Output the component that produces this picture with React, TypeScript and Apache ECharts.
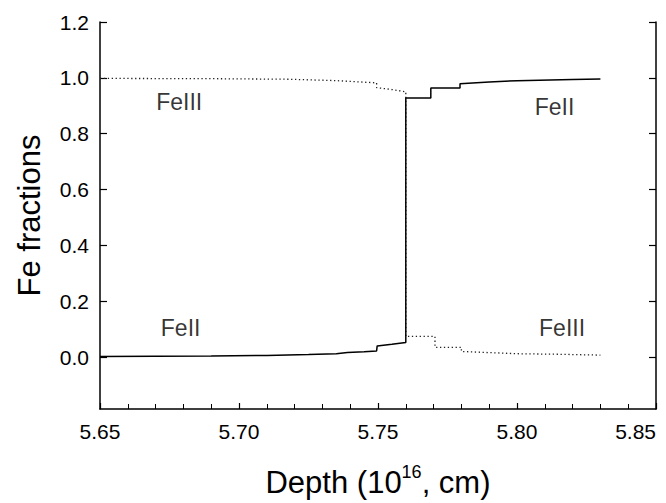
import React, { useEffect, useRef } from "react";
import * as echarts from "echarts";

const feIIDepth = [5.65, 5.67, 5.69, 5.71, 5.725, 5.735, 5.739, 5.745, 5.7495, 5.7497, 5.755, 5.76, 5.76, 5.769, 5.769, 5.7795, 5.7795, 5.79, 5.8, 5.82, 5.83];
const feIIFrac = [0.002, 0.003, 0.004, 0.006, 0.009, 0.012, 0.016, 0.019, 0.022, 0.04, 0.046, 0.052, 0.928, 0.928, 0.964, 0.964, 0.979, 0.985, 0.99, 0.994, 0.996];

const feIIIDepth = [5.65, 5.69, 5.718, 5.735, 5.7495, 5.7495, 5.755, 5.76, 5.76, 5.7705, 5.7705, 5.78, 5.78, 5.79, 5.8, 5.815, 5.83];
const feIIIFrac = [0.998, 0.997, 0.995, 0.99, 0.982, 0.965, 0.958, 0.95, 0.074, 0.074, 0.035, 0.035, 0.02, 0.016, 0.012, 0.01, 0.007];

const yTicks = [0, 0.2, 0.4, 0.6, 0.8, 1.0, 1.2];

const labels = [
  { text: "FeIII", x: 5.6785, y: 0.912 },
  { text: "FeII", x: 5.8135, y: 0.895 },
  { text: "FeII", x: 5.679, y: 0.105 },
  { text: "FeIII", x: 5.8162, y: 0.105 },
];

const FONT = "'Liberation Sans', Arial, Helvetica, sans-serif";

export default function App() {
  const ref = useRef<HTMLDivElement>(null);
  useEffect(() => {
    if (!ref.current) return;
    const chart = echarts.init(ref.current, undefined, { renderer: "svg" });
    const zip = (a: number[], b: number[]) => a.map((v, i) => [v, b[i]]);
    chart.setOption({
      animation: false,
      backgroundColor: "#ffffff",
      grid: { left: 100, right: 10, top: 22, bottom: 94 },
      xAxis: {
        type: "value",
        min: 5.65,
        max: 5.85,
        interval: 0.05,
        axisLine: { show: true, onZero: false, lineStyle: { color: "#000", width: 1.5 } },
        axisTick: { show: true, inside: true, length: 6, lineStyle: { color: "#000", width: 1.2 } },
        minorTick: { show: true, splitNumber: 5, length: 5, lineStyle: { color: "#000", width: 1 } },
        splitLine: { show: false },
        axisLabel: {
          color: "#000",
          fontSize: 21,
          fontFamily: FONT,
          margin: 12,
          alignMaxLabel: "right",
          formatter: (v: number) => v.toFixed(2),
        },
        name: "{a|Depth (10}{sup|16}{a|, cm)}",
        nameLocation: "middle",
        nameGap: 54,
        nameTextStyle: {
          rich: {
            a: { fontSize: 31, fontFamily: FONT, color: "#000", lineHeight: 38 },
            sup: { fontSize: 18, fontFamily: FONT, color: "#000", lineHeight: 38, verticalAlign: "top", padding: [0, 0, 16, 0] },
          },
        },
      },
      yAxis: [
        {
          type: "value",
          min: -0.186,
          max: 1.2,
          axisLine: { show: true, onZero: false, lineStyle: { color: "#000", width: 1.5 } },
          axisTick: { show: true, inside: true, length: 7, customValues: yTicks, lineStyle: { color: "#000", width: 1.2 } },
          splitLine: { show: false },
          axisLabel: {
            color: "#000",
            fontSize: 21,
            fontFamily: FONT,
            margin: 11,
            customValues: yTicks,
            formatter: (v: number) => v.toFixed(1),
          },
          name: "Fe fractions",
          nameLocation: "middle",
          nameRotate: 90,
          nameGap: 55,
          nameTextStyle: { fontSize: 31, fontFamily: FONT, color: "#000" },
        },
        {
          type: "value",
          position: "right",
          min: -0.186,
          max: 1.2,
          axisLine: { show: true, onZero: false, lineStyle: { color: "#000", width: 1.5 } },
          axisTick: { show: true, inside: true, length: 7, customValues: yTicks, lineStyle: { color: "#000", width: 1.2 } },
          splitLine: { show: false },
          axisLabel: { show: false },
        },
      ],
      series: [
        {
          name: "FeII",
          type: "line",
          data: zip(feIIDepth, feIIFrac),
          showSymbol: false,
          symbol: "none",
          lineStyle: { color: "#000", width: 1.5 },
          z: 3,
        },
        {
          name: "FeIII",
          type: "line",
          data: zip(feIIIDepth, feIIIFrac),
          showSymbol: false,
          symbol: "none",
          lineStyle: { color: "#222", width: 1.3, type: [1.3, 2.6] },
          z: 2,
        },
        {
          name: "labels",
          type: "scatter",
          data: labels.map((l) => ({ value: [l.x, l.y], name: l.text })),
          symbolSize: 0,
          label: {
            show: true,
            position: "inside",
            formatter: (p: any) => p.name,
            fontSize: 23,
            fontFamily: FONT,
            color: "#000",
          },
          silent: true,
        },
      ],
    });
    return () => chart.dispose();
  }, []);
  return <div ref={ref} style={{ position: "fixed", left: 0, top: 0, width: 666, height: 503 }} />;
}
